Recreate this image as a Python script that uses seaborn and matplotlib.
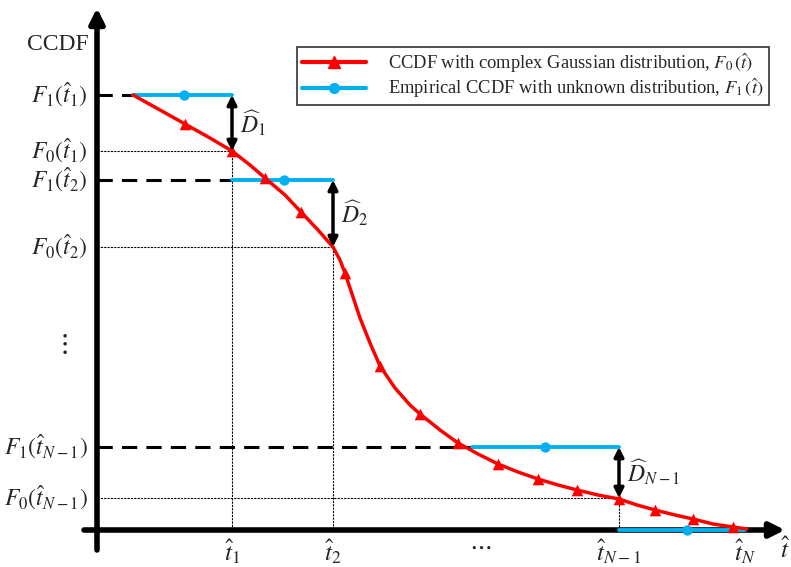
import numpy as np
import pandas as pd
import matplotlib
matplotlib.use("Agg")
import matplotlib.pyplot as plt
import seaborn as sns
from matplotlib.lines import Line2D

# schematic data, in figure pixel units (y grows downward)
curve_x = [133, 160, 185, 210, 232, 250, 265, 285, 301, 318, 333, 340, 345, 352, 360, 370,
           380, 395, 410, 420, 440, 458, 478, 498, 518, 538, 558, 577, 598, 619, 637, 655,
           675, 693, 713, 733, 747]
curve_y = [95, 110, 124, 138, 151, 165, 178, 195, 212, 230, 247, 260, 273, 294, 318, 343,
           366, 388, 405, 414, 430, 443, 454, 464, 472, 479, 485, 490, 495, 499, 505, 510,
           515, 519, 524, 527, 529]
marker_idx = [2, 4, 6, 8, 12, 16, 19, 21, 23, 25, 27, 29, 31, 33, 35]

step_x0 = [133, 232, 472, 619]
step_x1 = [232, 333, 619, 745]
step_y = [95, 180, 447, 530]
step_dot = [184, 284, 545, 687]

t_pos = [232, 333, 619, 745]
t_labels = [r"$\hat{t}_1$", r"$\hat{t}_2$", r"$\hat{t}_{N-1}$", r"$\hat{t}_N$"]

F1_levels = [95, 180, 447]
F1_labels = [r"$F_1(\hat{t}_1)$", r"$F_1(\hat{t}_2)$", r"$F_1(\hat{t}_{N-1})$"]
F0_levels = [151, 247, 498]
F0_labels = [r"$F_0(\hat{t}_1)$", r"$F_0(\hat{t}_2)$", r"$F_0(\hat{t}_{N-1})$"]
D_labels = [r"$\widehat{D}_1$", r"$\widehat{D}_2$", r"$\widehat{D}_{N-1}$"]

sns.set_theme(style="white")
plt.rcParams["font.family"] = ["Liberation Serif", "DejaVu Serif"]
plt.rcParams["mathtext.fontset"] = "stix"

RED = "#FF0000"
BLUE = "#00B0F0"

fig = plt.figure(figsize=(7.91, 5.67), dpi=100)
ax = fig.add_axes([0, 0, 1, 1])
ax.set_xlim(0, 791)
ax.set_ylim(567, 0)
ax.axis("off")

x0, xaxis_y = 97, 530

# helper lines
for yv, xe in zip(F1_levels, step_x0[:3]):
    ax.plot([x0, xe], [yv, yv], color="black", lw=2.2, ls=(0, (5, 3)), zorder=2)
for yv, xe in zip(F0_levels, t_pos[:3]):
    ax.plot([x0, xe], [yv, yv], color="black", lw=0.8, ls=(0, (2, 1)), zorder=2)
for xv, ys in zip(t_pos[:3], F0_levels):
    ax.plot([xv, xv], [ys, xaxis_y], color="black", lw=0.8, ls=(0, (2, 1)), zorder=2)

# axes with arrows
ax.annotate("", xy=(x0, 8), xytext=(x0, 550),
            arrowprops=dict(arrowstyle="-|>", lw=4, color="black", mutation_scale=22,
                            shrinkA=0, shrinkB=0), zorder=3)
ax.annotate("", xy=(785, xaxis_y), xytext=(84, xaxis_y),
            arrowprops=dict(arrowstyle="-|>", lw=4, color="black", mutation_scale=22,
                            shrinkA=0, shrinkB=0), zorder=3)

# empirical steps
steps = pd.DataFrame({
    "x": sum([[a, b] for a, b in zip(step_x0, step_x1)], []),
    "y": sum([[v, v] for v in step_y], []),
    "seg": sum([[i, i] for i in range(len(step_y))], []),
})
sns.lineplot(data=steps, x="x", y="y", units="seg", estimator=None, sort=False,
             color=BLUE, lw=2.8, ax=ax, zorder=4)
ax.scatter(step_dot, step_y, color=BLUE, s=55, zorder=5, linewidths=0)

# gaussian ccdf curve
curve = pd.DataFrame({"x": curve_x, "y": curve_y})
sns.lineplot(data=curve, x="x", y="y", sort=False, color=RED, lw=2.5, ax=ax, zorder=6)
ax.scatter([curve_x[i] for i in marker_idx], [curve_y[i] for i in marker_idx],
           marker="^", color=RED, s=70, zorder=7, linewidths=0)

# gap arrows
for xv, ya, yb, lab in zip(t_pos[:3], F1_levels, F0_levels, D_labels):
    ax.annotate("", xy=(xv, ya), xytext=(xv, yb),
                arrowprops=dict(arrowstyle="<|-|>", lw=2.5, color="black", mutation_scale=14,
                                shrinkA=0, shrinkB=0), zorder=9)
    ax.text(xv + 8, (ya + yb) / 2, lab, fontsize=17, ha="left", va="center")

# tick labels
for yv, lab in zip(F1_levels + F0_levels, F1_labels + F0_labels):
    ax.text(88, yv, lab, fontsize=17, ha="right", va="center")
for xv, lab in zip(t_pos, t_labels):
    ax.text(xv, 537, lab, fontsize=18, ha="center", va="top")
ax.text(480, 536, r"$\cdots$", fontsize=18, ha="center", va="top")
ax.text(62, 345, r"$\vdots$", fontsize=20, ha="center", va="center")
ax.text(791, 537, r"$\hat{t}$", fontsize=18, ha="right", va="top")
ax.text(58, 45, "CCDF", fontsize=17, ha="center", va="center")

handles = [
    Line2D([], [], color=RED, lw=3, marker="^", ms=8),
    Line2D([], [], color=BLUE, lw=3, marker="o", ms=7),
]
labels = [
    r"CCDF with complex Gaussian distribution, $F_0\,(\hat{t})$",
    r"Empirical CCDF with unknown distribution, $F_1\,(\hat{t})$",
]
leg = ax.legend(handles, labels, loc="upper left", bbox_to_anchor=(297 / 791, 1 - 47 / 567),
                borderaxespad=0, fontsize=13.3, frameon=True, fancybox=False, edgecolor="black",
                handlelength=3.5, handletextpad=1.2, borderpad=0.25, labelspacing=0.1)
leg.get_frame().set_linewidth(1.2)

fig.savefig("out.png", dpi=100)
